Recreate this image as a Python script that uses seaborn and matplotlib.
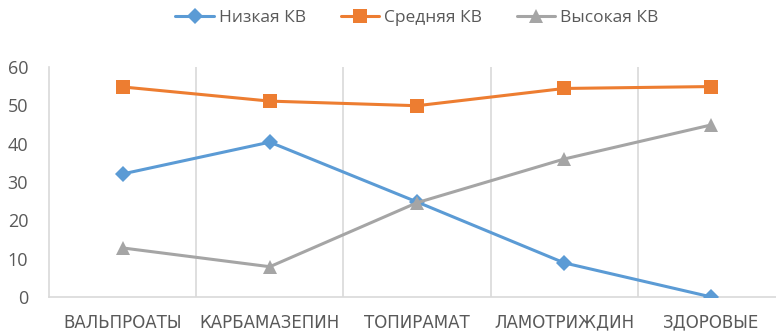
import matplotlib
matplotlib.use("Agg")
import matplotlib.pyplot as plt
import seaborn as sns
import pandas as pd

categories = ["ВАЛЬПРОАТЫ", "КАРБАМАЗЕПИН", "ТОПИРАМАТ", "ЛАМОТРИЖДИН", "ЗДОРОВЫЕ"]
low = [32.1, 40.4, 24.8, 8.9, 0.0]
mid = [54.8, 51.1, 49.9, 54.4, 54.9]
high = [12.8, 7.9, 24.6, 36.0, 44.9]
series_names = ["Низкая КВ", "Средняя КВ", "Высокая КВ"]

sns.set_theme(style="white")
plt.rcParams['font.family'] = ['Open Sans', 'DejaVu Sans']

W, H = 776, 334
fig = plt.figure(figsize=(W / 100, H / 100), dpi=100)
left, right, top, bottom = 49, 785, 67, 297
ax = fig.add_axes([left / W, 1 - bottom / H, (right - left) / W, (bottom - top) / H])

colors = ["#5B9BD5", "#ED7D31", "#A5A5A5"]
markers = ["D", "s", "^"]
msizes = [8, 10, 10]
xs = list(range(len(categories)))
for name, vals, c, m, ms in zip(series_names, [low, mid, high], colors, markers, msizes):
    df = pd.DataFrame({"x": xs, "y": vals})
    sns.lineplot(data=df, x="x", y="y", ax=ax, color=c, marker=m, markersize=ms,
                 markeredgewidth=0, linewidth=2.2, label=name, zorder=3)

ax.set_xlim(-0.5, 4.5)
ax.set_ylim(0, 60)
ax.set_yticks(range(0, 61, 10))
ax.set_xticks(xs)
ax.set_xticklabels(categories, family=['DejaVu Sans'])
ax.set_xlabel("")
ax.set_ylabel("")
for b in [0.5, 1.5, 2.5, 3.5]:
    ax.axvline(b, color="#D9D9D9", linewidth=1.2, zorder=1)
for s in ["top", "right"]:
    ax.spines[s].set_visible(False)
for s in ["left", "bottom"]:
    ax.spines[s].set_color("#D9D9D9")
    ax.spines[s].set_linewidth(1.2)
ax.tick_params(axis="y", length=0, pad=15, labelsize=13, labelcolor="#595959")
ax.tick_params(axis="x", length=0, pad=12, labelsize=12, labelcolor="#595959")

ax.legend(loc="center", bbox_to_anchor=(0.5, 1 + (top - 18) / (bottom - top)),
          ncol=3, frameon=False, fontsize=12.5, labelcolor="#595959",
          handlelength=2.2, columnspacing=2.0, handletextpad=0.3)

fig.savefig("out.png", dpi=100)
